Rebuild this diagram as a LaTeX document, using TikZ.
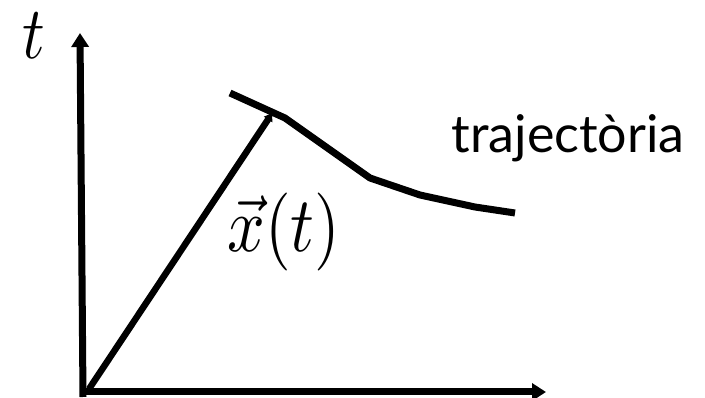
\documentclass[tikz,border=0pt]{standalone}
\usepackage{fontspec}
\usepackage{amsmath}
\newfontfamily\labelfont{Lato}
\usetikzlibrary{arrows.meta,positioning}

\begin{document}
\begin{tikzpicture}[x=1pt,y=-1pt,
    axis/.style={line width=7pt,-{Triangle[length=14pt,width=17pt]}},
    traj/.style={line width=7pt,line join=round},
    vec/.style={line width=6.5pt,-{Latex[length=9pt,width=11pt]}},
    mathlbl/.style={xscale=6.6,yscale=7.8,transform shape,inner sep=0pt}]
    \useasboundingbox (0,0) rectangle (705,398);
    % axes
    \coordinate (O) at (83,392);
    \coordinate (ttop) at (80,33);
    \coordinate (xend) at (546,392);
    \draw[axis] (83,397) -- (ttop);
    \draw[axis] (O) ++(-3,0) -- (xend);
    % trajectory
    \coordinate (p1) at (230,93);
    \coordinate (p2) at (285,118);
    \coordinate (p3) at (370,178);
    \coordinate (p4) at (420,195);
    \coordinate (p5) at (475,207);
    \coordinate (p6) at (515,213);
    \draw[traj] (p1) -- (p2) -- (p3) -- (p4) -- (p5) -- (p6);
    % position vector
    \coordinate (x0) at (89,389);
    \coordinate (xtip) at (273,112);
    \draw[vec] (x0) -- (xtip);
    % labels
    \node[mathlbl,xscale=0.95,yscale=0.95,anchor=base] (tlbl) at (34,59) {$t$};
    \node[mathlbl,anchor=base] (xlbl) at (284,252) {$\vec{x}(t)$};
    \node[font=\labelfont\fontsize{52}{56}\selectfont,anchor=base,inner sep=0pt] (trajlbl) at (568,153) {trajectòria};
\end{tikzpicture}
\end{document}
